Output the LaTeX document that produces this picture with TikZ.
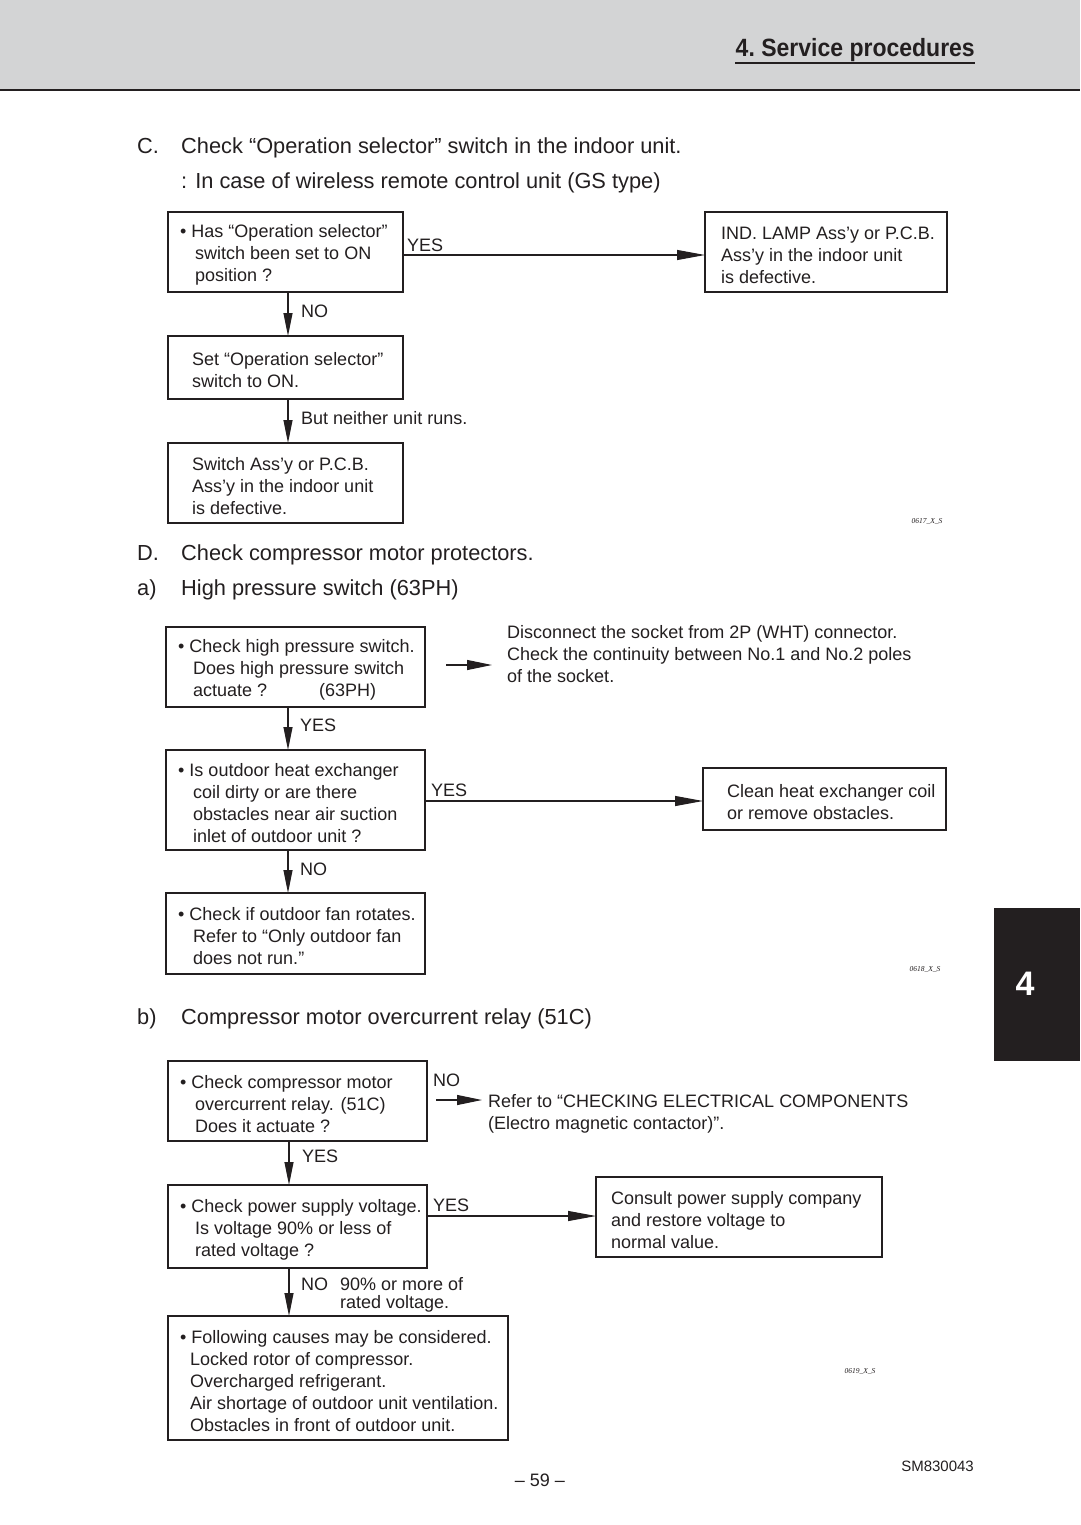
\documentclass[tikz,border=0pt]{standalone}
\usepackage{fontspec}
\setmainfont{Liberation Sans}
\newfontfamily\codefont{Liberation Serif}
\usetikzlibrary{arrows.meta}
\definecolor{ink}{HTML}{231F20}
\definecolor{headgray}{HTML}{D3D4D5}
\newcommand\ii{\hspace*{15pt}}
\newcommand\iii{\hspace*{10pt}}
\tikzset{
  box/.style={draw=ink, line width=2pt, rectangle, inner sep=0pt, outer sep=0pt, anchor=north west},
  txt/.style={text=ink, align=left, inner sep=0pt, yshift=-3pt, font=\fontsize{18}{22}\selectfont},
  lbl/.style={text=ink, inner sep=0pt, anchor=base west, font=\fontsize{18}{22}\selectfont},
  head/.style={text=ink, inner sep=0pt, anchor=base west, font=\fontsize{21.8}{26}\selectfont},
  code/.style={text=ink, inner sep=0pt, font=\fontsize{7.5}{9}\codefont\itshape},
  harr/.style={draw=ink, line width=1.1pt, -{Triangle[length=28pt,width=10pt]}},
  sarr/.style={draw=ink, line width=1.1pt, -{Triangle[length=25pt,width=10pt]}},
  varr/.style={draw=ink, line width=1.1pt, -{Triangle[length=23pt,width=9pt]}},
}
\begin{document}
\begin{tikzpicture}[x=1pt,y=-1pt]
\useasboundingbox[fill=white] (0,0) rectangle (1080,1525);
% header
\fill[headgray] (0,0) rectangle (1080,90);
\draw[ink, line width=2pt] (0,90) -- (1080,90);
\node[text=ink, inner sep=0pt, anchor=base east] (title) at (975,57)
  {\fontsize{25}{28}\selectfont\bfseries\scalebox{0.92}[1]{4.\ Service procedures}};
\draw[ink, line width=2pt] (735,63) -- (975,63);

% ---------- Section C
\node[head] (hC) at (137,154) {C.};
\node[head] (hC1) at (181,154) {Check “Operation selector” switch in the indoor unit.};
\node[head] (hC2) at (181,189) {: In case of wireless remote control unit (GS type)};

\node[box, minimum width=235pt, minimum height=80pt] (b1) at (168,212) {};
\node[txt, anchor=west] (t1) at ([xshift=12pt]b1.west) {• Has “Operation selector”\\\ii switch been set to ON\\\ii position ?};
\node[box, minimum width=242pt, minimum height=80pt] (b2) at (705,212) {};
\node[txt, anchor=west] (t2) at ([xshift=16pt]b2.west) {IND. LAMP Ass’y or P.C.B.\\Ass’y in the indoor unit\\is defective.};
\draw[harr] ([yshift=-3pt]b1.east) -- ([yshift=-3pt]b2.west);
\node[lbl] (l1) at (407,251) {YES};

\node[box, minimum width=235pt, minimum height=63pt] (b3) at (168,336) {};
\node[txt, anchor=west] (t3) at ([xshift=24pt]b3.west) {Set “Operation selector”\\switch to ON.};
\draw[varr] ([xshift=120pt]b1.south west) -- ([xshift=120pt]b3.north west);
\node[lbl] (l2) at (301,317) {NO};

\node[box, minimum width=235pt, minimum height=80pt] (b4) at (168,443) {};
\node[txt, anchor=west] (t4) at ([xshift=24pt]b4.west) {Switch Ass’y or P.C.B.\\Ass’y in the indoor unit\\is defective.};
\draw[varr] ([xshift=120pt]b3.south west) -- ([xshift=120pt]b4.north west);
\node[lbl] (l3) at (301,424) {But neither unit runs.};
\node[code] (c1) at (927,521) {0617\_X\_S};

% ---------- Section D
\node[head] (hD) at (137,560) {D.};
\node[head] (hD1) at (181,560) {Check compressor motor protectors.};
\node[head] (ha) at (137,595) {a)};
\node[head] (ha1) at (181,595) {High pressure switch (63PH)};

\node[box, minimum width=259pt, minimum height=80pt] (b5) at (166,627) {};
\node[txt, anchor=west] (t5) at ([xshift=12pt]b5.west) {• Check high pressure switch.\\\ii Does high pressure switch\\\ii \makebox[126pt][l]{actuate ?}(63PH)};
\coordinate (s1) at (446,665);
\coordinate (s2) at (492,665);
\draw[sarr] (s1) -- (s2);
\node[txt, anchor=west] (t5r) at (507,651) {Disconnect the socket from 2P (WHT) connector.\\Check the continuity between No.1 and No.2 poles\\of the socket.};

\node[box, minimum width=259pt, minimum height=100pt] (b6) at (166,750) {};
\node[txt, anchor=west] (t6) at ([xshift=12pt]b6.west) {• Is outdoor heat exchanger\\\ii coil dirty or are there\\\ii obstacles near air suction\\\ii inlet of outdoor unit ?};
\draw[varr] ([xshift=122pt]b5.south west) -- ([xshift=122pt]b6.north west);
\node[lbl] (l4) at (300,731) {YES};

\node[box, minimum width=243pt, minimum height=62pt] (b7) at (703,768) {};
\node[txt, anchor=west] (t7) at ([xshift=24pt]b7.west) {Clean heat exchanger coil\\or remove obstacles.};
\draw[harr] ([yshift=-1pt]b6.east) -- ([yshift=-1pt]b6.east -| b7.west);
\node[lbl] (l5) at (431,796) {YES};

\node[box, minimum width=259pt, minimum height=81pt] (b8) at (166,893) {};
\node[txt, anchor=west] (t8) at ([xshift=12pt]b8.west) {• Check if outdoor fan rotates.\\\ii Refer to “Only outdoor fan\\\ii does not run.”};
\draw[varr] ([xshift=122pt]b6.south west) -- ([xshift=122pt]b8.north west);
\node[lbl] (l6) at (300,875) {NO};
\node[code] (c2) at (925,969) {0618\_X\_S};

% side tab
\fill[ink] (994,908) rectangle (1080,1061);
\node[text=white, inner sep=0pt, font=\fontsize{34}{40}\selectfont\bfseries] (tab) at (1025,984) {4};

% ---------- Section b
\node[head] (hb) at (137,1024) {b)};
\node[head] (hb1) at (181,1024) {Compressor motor overcurrent relay (51C)};

\node[box, minimum width=259pt, minimum height=80pt] (b9) at (168,1061) {};
\node[txt, anchor=west] (t9) at ([xshift=12pt]b9.west) {• Check compressor motor\\\ii overcurrent relay. (51C)\\\ii Does it actuate ?};
\node[lbl] (l7) at (433,1086) {NO};
\coordinate (s3) at (436,1100);
\coordinate (s4) at (482,1100);
\draw[sarr] (s3) -- (s4);
\node[txt, anchor=west] (t9r) at (488,1111) {Refer to “CHECKING ELECTRICAL COMPONENTS\\(Electro magnetic contactor)”.};

\node[box, minimum width=259pt, minimum height=83pt] (b10) at (168,1185) {};
\node[txt, anchor=west] (t10) at ([xshift=12pt]b10.west) {• Check power supply voltage.\\\ii Is voltage 90\% or less of\\\ii rated voltage ?};
\draw[varr] ([xshift=121pt]b9.south west) -- ([xshift=121pt]b10.north west);
\node[lbl] (l8) at (302,1162) {YES};

\node[box, minimum width=286pt, minimum height=80pt] (b11) at (596,1177) {};
\node[txt, anchor=west] (t11) at ([xshift=15pt]b11.west) {Consult power supply company\\and restore voltage to\\normal value.};
\coordinate (s5) at (427,1216);
\draw[harr] (s5) -- (s5 -| b11.west);
\node[lbl] (l9) at (433,1211) {YES};

\node[box, minimum width=340pt, minimum height=124pt] (b12) at (168,1316) {};
\node[txt, anchor=west] (t12) at ([xshift=12pt]b12.west) {• Following causes may be considered.\\\iii Locked rotor of compressor.\\\iii Overcharged refrigerant.\\\iii Air shortage of outdoor unit ventilation.\\\iii Obstacles in front of outdoor unit.};
\draw[varr] ([xshift=121pt]b10.south west) -- ([xshift=121pt]b12.north west);
\node[lbl] (l10) at (301,1290) {NO};
\node[text=ink, align=left, inner sep=0pt, anchor=base west, font=\fontsize{18}{18}\selectfont] (l11) at (340,1308) {90\% or more of\\rated voltage.};
\node[code] (c3) at (860,1371) {0619\_X\_S};

% footer
\node[text=ink, inner sep=0pt, font=\fontsize{18}{22}\selectfont] (pg) at (540,1480) {– 59 –};
\node[text=ink, inner sep=0pt, anchor=east, font=\fontsize{15}{18}\selectfont] (sm) at (974,1466) {SM830043};
\end{tikzpicture}
\end{document}
